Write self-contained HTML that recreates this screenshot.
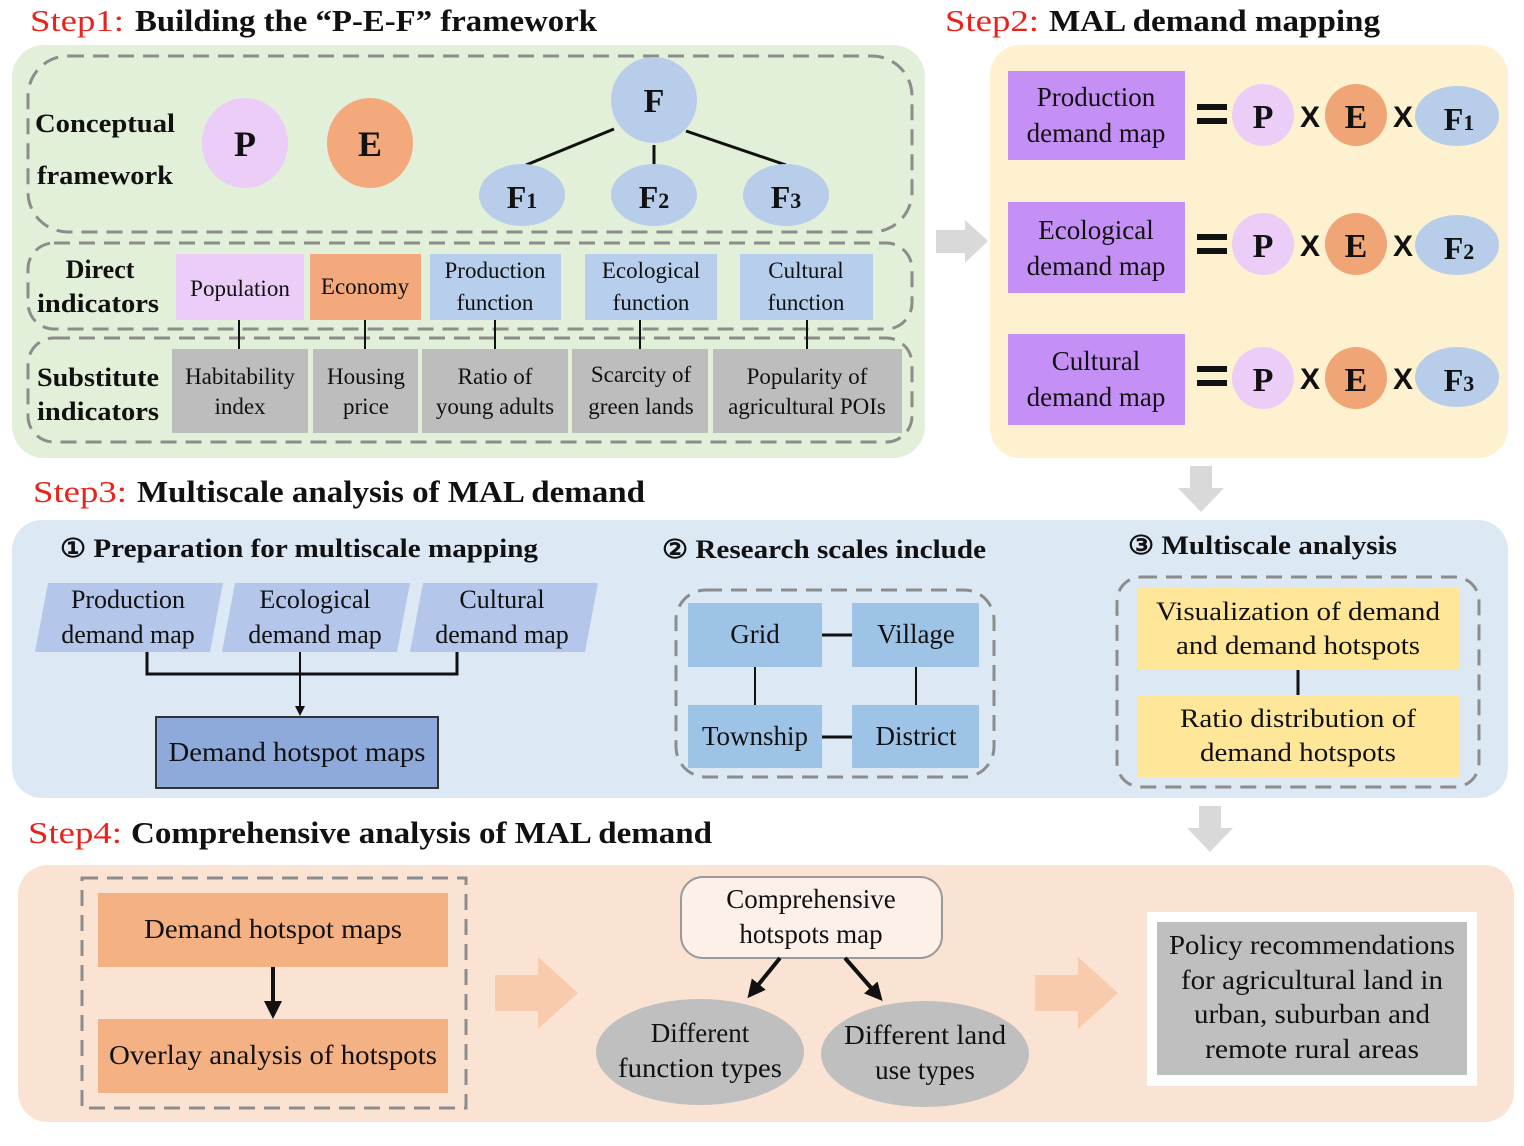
<!DOCTYPE html>
<html><head><meta charset="utf-8"><style>
html,body{margin:0;padding:0;background:#fff;}
svg{display:block;}
text{font-family:"Liberation Serif",serif;fill:#111;}
.b{font-weight:bold;}
.h{font-size:31px;font-weight:bold;}
.r{fill:#e8231c;font-size:31px;}
</style></head><body>
<svg width="1524" height="1146" viewBox="0 0 1524 1146" xmlns="http://www.w3.org/2000/svg">
<defs>
<marker id="ah" markerWidth="10" markerHeight="10" refX="8" refY="5" orient="auto" markerUnits="userSpaceOnUse"><path d="M0,0 L10,5 L0,10 z" fill="#111"/></marker>
<marker id="ah2" markerWidth="18" markerHeight="18" refX="14" refY="9" orient="auto" markerUnits="userSpaceOnUse"><path d="M0,0 L18,9 L0,18 z" fill="#111"/></marker>
</defs>

<!-- Titles -->
<text x="30" y="31" class="r" textLength="94" lengthAdjust="spacingAndGlyphs">Step1:</text>
<text x="135" y="31" class="h" textLength="462" lengthAdjust="spacingAndGlyphs">Building the “P-E-F” framework</text>
<text x="945" y="31" class="r" textLength="94" lengthAdjust="spacingAndGlyphs">Step2:</text>
<text x="1049" y="31" class="h" textLength="331" lengthAdjust="spacingAndGlyphs">MAL demand mapping</text>
<text x="33" y="502" class="r" textLength="94" lengthAdjust="spacingAndGlyphs">Step3:</text>
<text x="137" y="502" class="h" textLength="508" lengthAdjust="spacingAndGlyphs">Multiscale analysis of MAL demand</text>
<text x="28" y="843" class="r" textLength="94" lengthAdjust="spacingAndGlyphs">Step4:</text>
<text x="131" y="843" class="h" textLength="581" lengthAdjust="spacingAndGlyphs">Comprehensive analysis of MAL demand</text>

<!-- STEP1 panel -->
<rect x="12" y="45" width="913" height="413" rx="32" fill="#e2efd9"/>
<g fill="none" stroke="#8c8c8c" stroke-width="3" stroke-dasharray="16,9">
<rect x="28" y="56" width="884" height="176" rx="40"/>
<rect x="28" y="243" width="884" height="86" rx="26"/>
<rect x="28" y="338" width="884" height="104" rx="26"/>
</g>
<text x="35" y="132" class="b" font-size="26" textLength="140" lengthAdjust="spacingAndGlyphs">Conceptual</text>
<text x="37" y="184" class="b" font-size="26" textLength="136" lengthAdjust="spacingAndGlyphs">framework</text>
<ellipse cx="245" cy="143" rx="43" ry="45" fill="#ebcdf7"/>
<text x="245" y="156" class="b" font-size="36" text-anchor="middle">P</text>
<ellipse cx="370" cy="143" rx="43" ry="45" fill="#f3a97b"/>
<text x="370" y="156" class="b" font-size="36" text-anchor="middle">E</text>
<g stroke="#111" stroke-width="3">
<line x1="614" y1="129" x2="526" y2="165"/>
<line x1="654" y1="145" x2="654" y2="165"/>
<line x1="686" y1="131" x2="786" y2="165"/>
</g>
<ellipse cx="654" cy="100" rx="43" ry="43" fill="#b7cdea"/>
<text x="654" y="112" class="b" font-size="34" text-anchor="middle">F</text>
<ellipse cx="522" cy="195" rx="43" ry="31" fill="#b7cdea"/>
<ellipse cx="654" cy="195" rx="43" ry="31" fill="#b7cdea"/>
<ellipse cx="786" cy="195" rx="43" ry="31" fill="#b7cdea"/>
<text x="522" y="208" class="b" font-size="32" text-anchor="middle">F<tspan font-size="22">1</tspan></text>
<text x="654" y="208" class="b" font-size="32" text-anchor="middle">F<tspan font-size="22">2</tspan></text>
<text x="786" y="208" class="b" font-size="32" text-anchor="middle">F<tspan font-size="22">3</tspan></text>

<text x="100" y="278" class="b" font-size="26" text-anchor="middle">Direct</text>
<text x="98" y="312" class="b" font-size="26" text-anchor="middle" textLength="122" lengthAdjust="spacingAndGlyphs">indicators</text>
<text x="98" y="386" class="b" font-size="26" text-anchor="middle" textLength="122" lengthAdjust="spacingAndGlyphs">Substitute</text>
<text x="98" y="420" class="b" font-size="26" text-anchor="middle" textLength="122" lengthAdjust="spacingAndGlyphs">indicators</text>

<rect x="176" y="254" width="128" height="66" fill="#ebcdf7"/>
<rect x="310" y="254" width="111" height="66" fill="#f3a97b"/>
<rect x="430" y="254" width="131" height="66" fill="#b7cfec"/>
<rect x="585" y="254" width="132" height="66" fill="#b7cfec"/>
<rect x="740" y="254" width="133" height="66" fill="#b7cfec"/>
<g font-size="23" text-anchor="middle">
<text x="240" y="296">Population</text>
<text x="365" y="294">Economy</text>
<text x="495" y="278">Production</text><text x="495" y="310">function</text>
<text x="651" y="278">Ecological</text><text x="651" y="310">function</text>
<text x="806" y="278">Cultural</text><text x="806" y="310">function</text>
</g>
<g stroke="#111" stroke-width="2">
<line x1="239" y1="320" x2="239" y2="349"/>
<line x1="365" y1="320" x2="365" y2="349"/>
<line x1="495" y1="320" x2="495" y2="349"/>
<line x1="640" y1="320" x2="640" y2="349"/>
<line x1="807" y1="320" x2="807" y2="349"/>
</g>
<g fill="#bdbdbd">
<rect x="172" y="349" width="136" height="84"/>
<rect x="313" y="349" width="105" height="84"/>
<rect x="422" y="349" width="146" height="84"/>
<rect x="572" y="349" width="136" height="84"/>
<rect x="713" y="349" width="189" height="84"/>
</g>
<g font-size="23" text-anchor="middle">
<text x="240" y="384">Habitability</text><text x="240" y="414">index</text>
<text x="366" y="384">Housing</text><text x="366" y="414">price</text>
<text x="495" y="384">Ratio of</text><text x="495" y="414">young adults</text>
<text x="641" y="382">Scarcity of</text><text x="641" y="414">green lands</text>
<text x="807" y="384">Popularity of</text><text x="807" y="414">agricultural POIs</text>
</g>

<path d="M936,230 L965,230 L965,220 L988,241 L965,263 L965,253 L936,253 z" fill="#d9d9d9"/>

<!-- STEP2 panel -->
<rect x="990" y="45" width="518" height="413" rx="30" fill="#fdf1cf"/>
<rect x="1008" y="71" width="177" height="89" fill="#c590f6"/>
<rect x="1008" y="202" width="177" height="91" fill="#c590f6"/>
<rect x="1008" y="334" width="177" height="91" fill="#c590f6"/>
<g font-size="27" text-anchor="middle">
<text x="1096" y="106">Production</text><text x="1096" y="142">demand map</text>
<text x="1096" y="239">Ecological</text><text x="1096" y="275">demand map</text>
<text x="1096" y="370">Cultural</text><text x="1096" y="406">demand map</text>
</g>
<g>
<rect x="1197" y="104" width="30" height="6" fill="#111"/><rect x="1197" y="118" width="30" height="6" fill="#111"/>
<circle cx="1263" cy="115" r="31" fill="#ebcdf7"/><text x="1263" y="128" class="b" font-size="34" text-anchor="middle">P</text>
<text x="1310" y="127" font-size="30" text-anchor="middle" class="b" style="font-family:'Liberation Sans',sans-serif">X</text>
<circle cx="1356" cy="115" r="31" fill="#f0a577"/><text x="1356" y="128" class="b" font-size="34" text-anchor="middle">E</text>
<text x="1403" y="127" font-size="30" text-anchor="middle" class="b" style="font-family:'Liberation Sans',sans-serif">X</text>
<ellipse cx="1457" cy="116" rx="42" ry="30" fill="#b7cdea"/><text x="1459" y="130" class="b" font-size="32" text-anchor="middle">F<tspan font-size="22">1</tspan></text>
</g>
<g>
<rect x="1197" y="234" width="30" height="6" fill="#111"/><rect x="1197" y="248" width="30" height="6" fill="#111"/>
<circle cx="1263" cy="244" r="31" fill="#ebcdf7"/><text x="1263" y="257" class="b" font-size="34" text-anchor="middle">P</text>
<text x="1310" y="256" font-size="30" text-anchor="middle" class="b" style="font-family:'Liberation Sans',sans-serif">X</text>
<circle cx="1356" cy="244" r="31" fill="#f0a577"/><text x="1356" y="257" class="b" font-size="34" text-anchor="middle">E</text>
<text x="1403" y="256" font-size="30" text-anchor="middle" class="b" style="font-family:'Liberation Sans',sans-serif">X</text>
<ellipse cx="1457" cy="245" rx="42" ry="30" fill="#b7cdea"/><text x="1459" y="259" class="b" font-size="32" text-anchor="middle">F<tspan font-size="22">2</tspan></text>
</g>
<g>
<rect x="1197" y="366" width="30" height="6" fill="#111"/><rect x="1197" y="380" width="30" height="6" fill="#111"/>
<circle cx="1263" cy="378" r="31" fill="#ebcdf7"/><text x="1263" y="391" class="b" font-size="34" text-anchor="middle">P</text>
<text x="1310" y="389" font-size="30" text-anchor="middle" class="b" style="font-family:'Liberation Sans',sans-serif">X</text>
<circle cx="1356" cy="378" r="31" fill="#f0a577"/><text x="1356" y="391" class="b" font-size="34" text-anchor="middle">E</text>
<text x="1403" y="389" font-size="30" text-anchor="middle" class="b" style="font-family:'Liberation Sans',sans-serif">X</text>
<ellipse cx="1457" cy="377" rx="42" ry="30" fill="#b7cdea"/><text x="1459" y="391" class="b" font-size="32" text-anchor="middle">F<tspan font-size="22">3</tspan></text>
</g>

<path d="M1190,466 L1212,466 L1212,488 L1224,488 L1201,512 L1178,488 L1190,488 z" fill="#d9d9d9"/>
<path d="M1199,806 L1221,806 L1221,828 L1233,828 L1210,852 L1187,828 L1199,828 z" fill="#d9d9d9"/>

<!-- STEP3 panel -->
<rect x="12" y="520" width="1496" height="278" rx="30" fill="#dde8f5"/>
<text x="60" y="557" class="b" font-size="26" textLength="478" lengthAdjust="spacingAndGlyphs">① Preparation for multiscale mapping</text>
<text x="662" y="558" class="b" font-size="26" textLength="324" lengthAdjust="spacingAndGlyphs">② Research scales include</text>
<text x="1128" y="554" class="b" font-size="26" textLength="269" lengthAdjust="spacingAndGlyphs">③ Multiscale analysis</text>
<g fill="#b4c7ea">
<path d="M48,583 L223,583 L210,652 L35,652 z"/>
<path d="M235,583 L410,583 L397,652 L222,652 z"/>
<path d="M423,583 L598,583 L585,652 L410,652 z"/>
</g>
<g font-size="26" text-anchor="middle">
<text x="128" y="608">Production</text><text x="128" y="643">demand map</text>
<text x="315" y="608">Ecological</text><text x="315" y="643">demand map</text>
<text x="502" y="608">Cultural</text><text x="502" y="643">demand map</text>
</g>
<polyline points="147,652 147,674 457,674 457,652" stroke="#111" stroke-width="3" fill="none"/>
<line x1="300" y1="652" x2="300" y2="714" stroke="#111" stroke-width="2" marker-end="url(#ah)"/>
<rect x="156" y="717" width="282" height="71" fill="#8eaadb" stroke="#333" stroke-width="2"/>
<text x="297" y="761" font-size="27" text-anchor="middle" textLength="257" lengthAdjust="spacingAndGlyphs">Demand hotspot maps</text>

<rect x="676" y="590" width="318" height="187" rx="30" fill="none" stroke="#8c8c8c" stroke-width="3" stroke-dasharray="16,9"/>
<g fill="#9dc3e6">
<rect x="688" y="603" width="134" height="64"/>
<rect x="852" y="603" width="127" height="64"/>
<rect x="688" y="705" width="134" height="63"/>
<rect x="852" y="705" width="127" height="63"/>
</g>
<g stroke="#111" stroke-width="3">
<line x1="822" y1="635" x2="852" y2="635"/>
<line x1="822" y1="737" x2="852" y2="737"/>
</g>
<g stroke="#111" stroke-width="2">
<line x1="755" y1="667" x2="755" y2="705"/>
<line x1="916" y1="667" x2="916" y2="705"/>
</g>
<g font-size="27" text-anchor="middle">
<text x="755" y="643">Grid</text><text x="916" y="643">Village</text>
<text x="755" y="745">Township</text><text x="916" y="745">District</text>
</g>

<rect x="1117" y="577" width="362" height="210" rx="24" fill="none" stroke="#8c8c8c" stroke-width="3" stroke-dasharray="16,9"/>
<rect x="1137" y="588" width="322" height="82" fill="#ffe699"/>
<rect x="1137" y="695" width="322" height="82" fill="#ffe699"/>
<line x1="1298" y1="670" x2="1298" y2="695" stroke="#111" stroke-width="3"/>
<g font-size="26" text-anchor="middle">
<text x="1298" y="620" textLength="284" lengthAdjust="spacingAndGlyphs">Visualization of demand</text><text x="1298" y="654" textLength="244" lengthAdjust="spacingAndGlyphs">and demand hotspots</text>
<text x="1298" y="727" textLength="236" lengthAdjust="spacingAndGlyphs">Ratio distribution of</text><text x="1298" y="761" textLength="196" lengthAdjust="spacingAndGlyphs">demand hotspots</text>
</g>

<!-- STEP4 panel -->
<rect x="18" y="865" width="1496" height="257" rx="30" fill="#fbe3d3"/>
<rect x="82" y="878" width="384" height="230" fill="none" stroke="#8c8c8c" stroke-width="3" stroke-dasharray="16,9"/>
<rect x="98" y="893" width="350" height="74" fill="#f4b183"/>
<rect x="98" y="1019" width="350" height="74" fill="#f4b183"/>
<text x="273" y="938" font-size="27" text-anchor="middle" textLength="258" lengthAdjust="spacingAndGlyphs">Demand hotspot maps</text>
<text x="273" y="1064" font-size="27" text-anchor="middle" textLength="328" lengthAdjust="spacingAndGlyphs">Overlay analysis of hotspots</text>
<line x1="273" y1="967" x2="273" y2="1015" stroke="#111" stroke-width="4" marker-end="url(#ah2)"/>
<path d="M495,975 L538,975 L538,957 L578,993 L538,1029 L538,1011 L495,1011 z" fill="#f8cbad"/>
<path d="M1035,975 L1078,975 L1078,957 L1118,993 L1078,1029 L1078,1011 L1035,1011 z" fill="#f8cbad"/>

<rect x="681" y="877" width="261" height="81" rx="22" fill="#fdf0e8" stroke="#9a9a9a" stroke-width="2"/>
<g font-size="27" text-anchor="middle">
<text x="811" y="908">Comprehensive</text><text x="811" y="943">hotspots map</text>
</g>
<ellipse cx="700" cy="1052" rx="104" ry="53" fill="#bfbfbf"/>
<ellipse cx="925" cy="1054" rx="104" ry="53" fill="#bfbfbf"/>
<g font-size="27" text-anchor="middle">
<text x="700" y="1042">Different</text><text x="700" y="1077" textLength="164" lengthAdjust="spacingAndGlyphs">function types</text>
<text x="925" y="1044" textLength="162" lengthAdjust="spacingAndGlyphs">Different land</text><text x="925" y="1079">use types</text>
</g>
<line x1="780" y1="958" x2="750" y2="995" stroke="#111" stroke-width="4" marker-end="url(#ah2)"/>
<line x1="845" y1="958" x2="880" y2="998" stroke="#111" stroke-width="4" marker-end="url(#ah2)"/>

<rect x="1147" y="912" width="330" height="174" fill="#fff"/>
<rect x="1157" y="922" width="310" height="153" fill="#bfbfbf"/>
<g font-size="27" text-anchor="middle">
<text x="1312" y="954" textLength="286" lengthAdjust="spacingAndGlyphs">Policy recommendations</text>
<text x="1312" y="989" textLength="262" lengthAdjust="spacingAndGlyphs">for agricultural land in</text>
<text x="1312" y="1023" textLength="236" lengthAdjust="spacingAndGlyphs">urban, suburban and</text>
<text x="1312" y="1058" textLength="214" lengthAdjust="spacingAndGlyphs">remote rural areas</text>
</g>
</svg>
</body></html>
